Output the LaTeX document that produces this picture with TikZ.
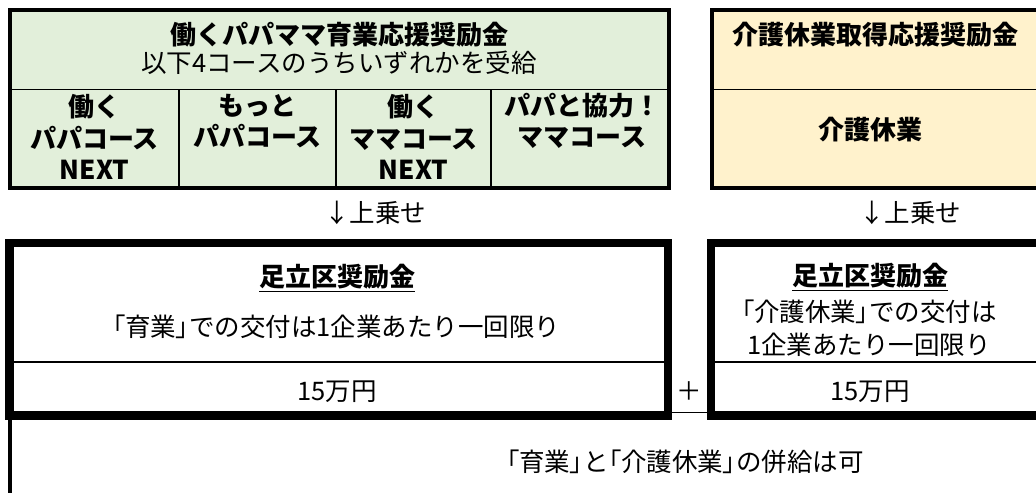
\documentclass[tikz,border=0pt]{standalone}
\usepackage{fontspec}
\setmainfont{Noto Sans CJK JP}
\newfontfamily\paltfont[RawFeature=+palt]{Noto Sans CJK JP}
\newcommand\kagi[1]{{\paltfont 「}#1{\paltfont 」}}
\definecolor{ikugreen}{HTML}{E2EFDA}
\definecolor{kaigocream}{HTML}{FFF2CC}
\begin{document}
\begin{tikzpicture}[x=1pt, y=-1pt, font=\fontsize{25.5}{33}\selectfont,
            line join=miter,
            txt/.style={align=center, inner sep=0pt},
            hd/.style={txt, font=\fontsize{26}{31.5}\selectfont\bfseries},
            thin/.style={line width=1.4pt},
            frame/.style={line width=4.5pt},
            heavy/.style={line width=8.5pt}]
            \useasboundingbox (0,0) rectangle (1036,493);
            \clip (0,0) rectangle (1036,493);
            % upper boxes
            \fill[ikugreen] (10,10) rectangle (669,188);
            \fill[kaigocream] (712,10) rectangle (1050,188);
            \draw[thin] (10,89.5) -- (669,89.5);
            \foreach \x in {179,336,491} \draw[thin] (\x,89.5) -- (\x,188);
            \draw[thin] (712,89.5) -- (1050,89.5);
            \draw[frame] (10,10) rectangle (669,188);
            \draw[frame] (1050,10) -| (712,188) -- (1050,188);
            \node[hd] (ikuTitle) at (339,35) {働くパパママ育業応援奨励金};
            \node[txt] (ikuSub) at (339,63) {以下4コースのうちいずれかを受給};
            \node[hd] (courseA) at (94.5,137) {働く\\パパコース\\NEXT};
            \node[hd] (courseB) at (257.5,121) {もっと\\パパコース};
            \node[hd] (courseC) at (413.5,137) {働く\\ママコース\\NEXT};
            \node[hd] (courseD) at (582,121) {パパと協力！\\ママコース};
            \node[hd] (kaigoTitle) at (875,35) {介護休業取得応援奨励金};
            \node[hd] (kaigoCourse) at (870,130) {介護休業};
            % add-on
            \node[txt] (addL) at (375,213) {↓上乗せ};
            \node[txt] (addR) at (910,213) {↓上乗せ};
            % lower boxes
            \draw[heavy] (9.5,243) rectangle (668,415.5);
            \draw[thin] (9.5,362) -- (668,362);
            \draw[heavy] (1050,243) -| (711,415.5) -- (1050,415.5);
            \draw[thin] (711,362) -- (1050,362);
            \draw[thin] (668,412.5) -- (711,412.5);
            \draw[line width=4pt] (10,415.5) -- (10,493);
            \node[hd] (ashiL) at (337,278) {\underline{足立区奨励金}};
            \node[txt] (onceL) at (336.5,327) {\kagi{育業}での交付は1企業あたり一回限り};
            \node[txt] (yenL) at (337,392) {15万円};
            \node[txt] (plus) at (689,391) {＋};
            \node[hd] (ashiR) at (870,277) {\underline{足立区奨励金}};
            \node[txt] (onceR) at (869,328.5) {\kagi{介護休業}での交付は\\1企業あたり一回限り};
            \node[txt] (yenR) at (870,392) {15万円};
            \node[txt] (both) at (685,462) {\kagi{育業}と\kagi{介護休業}の併給は可};
        \end{tikzpicture}
\end{document}
